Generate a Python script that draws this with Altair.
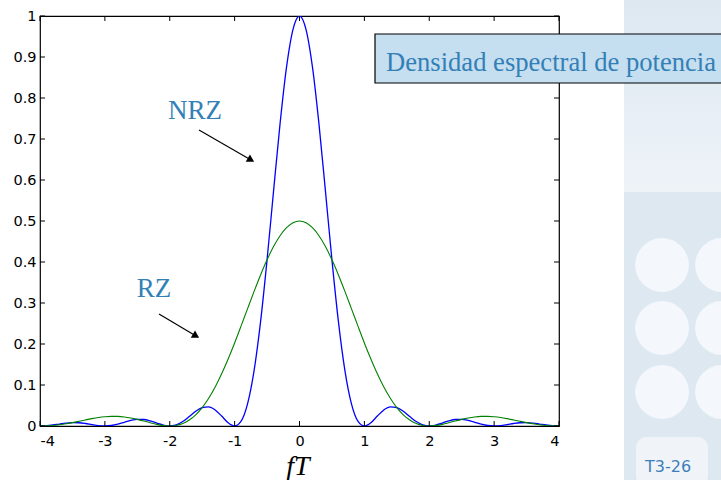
import altair as alt
import pandas as pd

# ---- data ----
freq = [-4.0, -3.9, -3.8, -3.7, -3.6, -3.5, -3.4, -3.3, -3.2, -3.1,
        -3.0, -2.9, -2.8, -2.7, -2.6, -2.5, -2.4, -2.3, -2.2, -2.1,
        -2.0, -1.9, -1.8, -1.7, -1.6, -1.5, -1.4, -1.3, -1.2, -1.1,
        -1.0, -0.9, -0.8, -0.7, -0.6, -0.5, -0.4, -0.3, -0.2, -0.1,
        0.0, 0.1, 0.2, 0.3, 0.4, 0.5, 0.6, 0.7, 0.8, 0.9,
        1.0, 1.1, 1.2, 1.3, 1.4, 1.5, 1.6, 1.7, 1.8, 1.9,
        2.0, 2.1, 2.2, 2.3, 2.4, 2.5, 2.6, 2.7, 2.8, 2.9,
        3.0, 3.1, 3.2, 3.3, 3.4, 3.5, 3.6, 3.7, 3.8, 3.9, 4.0]

nrz = [0.0, 0.0006, 0.0024, 0.0048, 0.0071, 0.0083, 0.0079, 0.0061, 0.0034, 0.0010,
       0.0, 0.0012, 0.0045, 0.0091, 0.0136, 0.0162, 0.0159, 0.0125, 0.0072, 0.0022,
       0.0, 0.0027, 0.0108, 0.0229, 0.0358, 0.0450, 0.0468, 0.0392, 0.0243, 0.0080,
       0.0, 0.0119, 0.0547, 0.1353, 0.2546, 0.4053, 0.5728, 0.7368, 0.8751, 0.9675,
       1.0, 0.9675, 0.8751, 0.7368, 0.5728, 0.4053, 0.2546, 0.1353, 0.0547, 0.0119,
       0.0, 0.0080, 0.0243, 0.0392, 0.0468, 0.0450, 0.0358, 0.0229, 0.0108, 0.0027,
       0.0, 0.0022, 0.0072, 0.0125, 0.0159, 0.0162, 0.0136, 0.0091, 0.0045, 0.0012,
       0.0, 0.0010, 0.0034, 0.0061, 0.0079, 0.0083, 0.0071, 0.0048, 0.0024, 0.0006, 0.0]

rz = [0.0, 0.0003, 0.0013, 0.0031, 0.0054, 0.0083, 0.0115, 0.0148, 0.0179, 0.0206,
      0.0225, 0.0235, 0.0234, 0.0221, 0.0196, 0.0162, 0.0122, 0.0079, 0.0040, 0.0011,
      0.0, 0.0014, 0.0060, 0.0145, 0.0273, 0.0450, 0.0677, 0.0952, 0.1273, 0.1634,
      0.2026, 0.2441, 0.2864, 0.3283, 0.3684, 0.4053, 0.4376, 0.4641, 0.4838, 0.4959,
      0.5, 0.4959, 0.4838, 0.4641, 0.4376, 0.4053, 0.3684, 0.3283, 0.2864, 0.2441,
      0.2026, 0.1634, 0.1273, 0.0952, 0.0677, 0.0450, 0.0273, 0.0145, 0.0060, 0.0014,
      0.0, 0.0011, 0.0040, 0.0079, 0.0122, 0.0162, 0.0196, 0.0221, 0.0234, 0.0235,
      0.0225, 0.0206, 0.0179, 0.0148, 0.0115, 0.0083, 0.0054, 0.0031, 0.0013, 0.0003, 0.0]

x_ticks = [-4, -3, -2, -1, 0, 1, 2, 3, 4]
y_ticks = [0.0, 0.1, 0.2, 0.3, 0.4, 0.5, 0.6, 0.7, 0.8, 0.9, 1.0]

title_text = "Densidad espectral de potencia"
label_nrz = "NRZ"
label_rz = "RZ"
x_title = "fT"
slide_no = "T3-26"

W, H = 519, 410
SANS = "DejaVu Sans"
SERIF = "Liberation Serif"
TXT_BLUE = "#3380b6"

df = pd.DataFrame({"f": freq, "nrz": nrz, "rz": rz})
one = pd.DataFrame({"a": [0]})

xs = alt.Scale(domain=[-4, 4], nice=False, zero=False)
ys = alt.Scale(domain=[0, 1], nice=False)

base = alt.Chart(df)

# decorative slide panel on the right
panel_top = alt.Chart(one).mark_rect(
    color=alt.LinearGradient(gradient="linear",
                             stops=[alt.GradientStop(color="#dde8f1", offset=0),
                                    alt.GradientStop(color="#eef3f8", offset=1)],
                             x1=0, x2=0, y1=0, y2=1)
).encode(x=alt.value(584), x2=alt.value(681), y=alt.value(-16), y2=alt.value(176))
panel_band = alt.Chart(one).mark_rect(color="#dde8f1").encode(
    x=alt.value(584), x2=alt.value(681), y=alt.value(176), y2=alt.value(464))
circ_df = pd.DataFrame({"cx": [622, 622, 622, 682, 682, 682],
                        "cy": [249, 312, 376, 249, 312, 376]})
panel_circles = alt.Chart(circ_df).mark_point(
    shape="circle", filled=True, size=2900, color="#f4f7fb", opacity=1
).encode(x=alt.X("cx:Q", scale=None), y=alt.Y("cy:Q", scale=None))
panel_bottom = alt.Chart(one).mark_rect(color="#f0f4f9", cornerRadius=10).encode(
    x=alt.value(596), x2=alt.value(668), y=alt.value(421), y2=alt.value(470))

# tick marks (inward, on all four sides)
xt = alt.Chart(pd.DataFrame({"t": x_ticks}))
yt = alt.Chart(pd.DataFrame({"t": y_ticks}))
tick_b = xt.mark_rule(color="black", strokeWidth=1).encode(
    x=alt.X("t:Q", scale=xs), y=alt.value(H), y2=alt.value(H - 5))
tick_t = xt.mark_rule(color="black", strokeWidth=1).encode(
    x=alt.X("t:Q", scale=xs), y=alt.value(0), y2=alt.value(5))
tick_l = yt.mark_rule(color="black", strokeWidth=1).encode(
    y=alt.Y("t:Q", scale=ys), x=alt.value(0), x2=alt.value(5))
tick_r = yt.mark_rule(color="black", strokeWidth=1).encode(
    y=alt.Y("t:Q", scale=ys), x=alt.value(W), x2=alt.value(W - 5))

x_axis = alt.Axis(values=x_ticks, ticks=False, tickSize=0, domain=False, grid=False,
                  labelExpr="'' + datum.value", labelFont=SANS, labelFontSize=14.5,
                  labelColor="black", labelPadding=8, title=None)
y_axis = alt.Axis(values=y_ticks, ticks=False, tickSize=0, domain=False, grid=False,
                  format=".1~f", labelFont=SANS, labelFontSize=14.5,
                  labelColor="black", labelPadding=4, title=None)

line_nrz = base.mark_line(color="#0000ff", strokeWidth=1.3, interpolate="monotone",
                          clip=True).encode(
    x=alt.X("f:Q", scale=xs, axis=x_axis),
    y=alt.Y("nrz:Q", scale=ys, axis=y_axis))
line_rz = base.mark_line(color="#008000", strokeWidth=1.1, interpolate="monotone",
                         clip=True).encode(
    x=alt.X("f:Q", scale=xs), y=alt.Y("rz:Q", scale=ys))

# annotations
def text_at(txt, x, y, **kw):
    return alt.Chart(one).mark_text(text=txt, **kw).encode(
        x=alt.value(x), y=alt.value(y))

def arrow(x0, y0, x1, y1, ang):
    ln = alt.Chart(one).mark_rule(color="black", strokeWidth=1.2).encode(
        x=alt.value(x0), y=alt.value(y0), x2=alt.value(x1), y2=alt.value(y1))
    hd = alt.Chart(one).mark_point(shape="triangle-right", filled=True, size=70,
                                   color="black", opacity=1, angle=ang).encode(
        x=alt.value(x1), y=alt.value(y1))
    return ln + hd

nrz_txt = text_at(label_nrz, 155, 103, font=SERIF, fontSize=27, color=TXT_BLUE,
                  align="center", baseline="alphabetic")
rz_txt = text_at(label_rz, 114, 281, font=SERIF, fontSize=27, color=TXT_BLUE,
                 align="center", baseline="alphabetic")
arr_nrz = arrow(159, 114, 211, 144, 30)
arr_rz = arrow(119, 298, 156, 320, 31)

box = alt.Chart(one).mark_rect(fill="#c5def0", stroke="black", strokeWidth=1.2).encode(
    x=alt.value(335), x2=alt.value(700), y=alt.value(18), y2=alt.value(67))
box_txt = text_at(title_text, 346, 55, font=SERIF, fontSize=26.6, color=TXT_BLUE,
                  align="left", baseline="alphabetic")

xt_txt = text_at(x_title, 258, 459, font=SERIF, fontSize=28, fontStyle="italic",
                 color="black", align="center", baseline="alphabetic")
slide_txt = text_at(slide_no, 605, 456, font=SANS, fontSize=16, color="#3d7fb8",
                    align="left", baseline="alphabetic")

chart = alt.layer(
    panel_top, panel_band, panel_circles, panel_bottom,
    line_nrz, line_rz,
    tick_b, tick_t, tick_l, tick_r,
    nrz_txt, rz_txt, arr_nrz, arr_rz,
    box, box_txt, xt_txt, slide_txt,
).properties(
    width=W, height=H,
    autosize=alt.AutoSizeParams(type="none"),
    padding={"left": 40, "top": 16, "right": 162, "bottom": 54},
    background="white",
).configure_view(stroke="black", strokeWidth=1.2)

chart.save("out.html", embed_options={"renderer": "svg", "actions": False})
